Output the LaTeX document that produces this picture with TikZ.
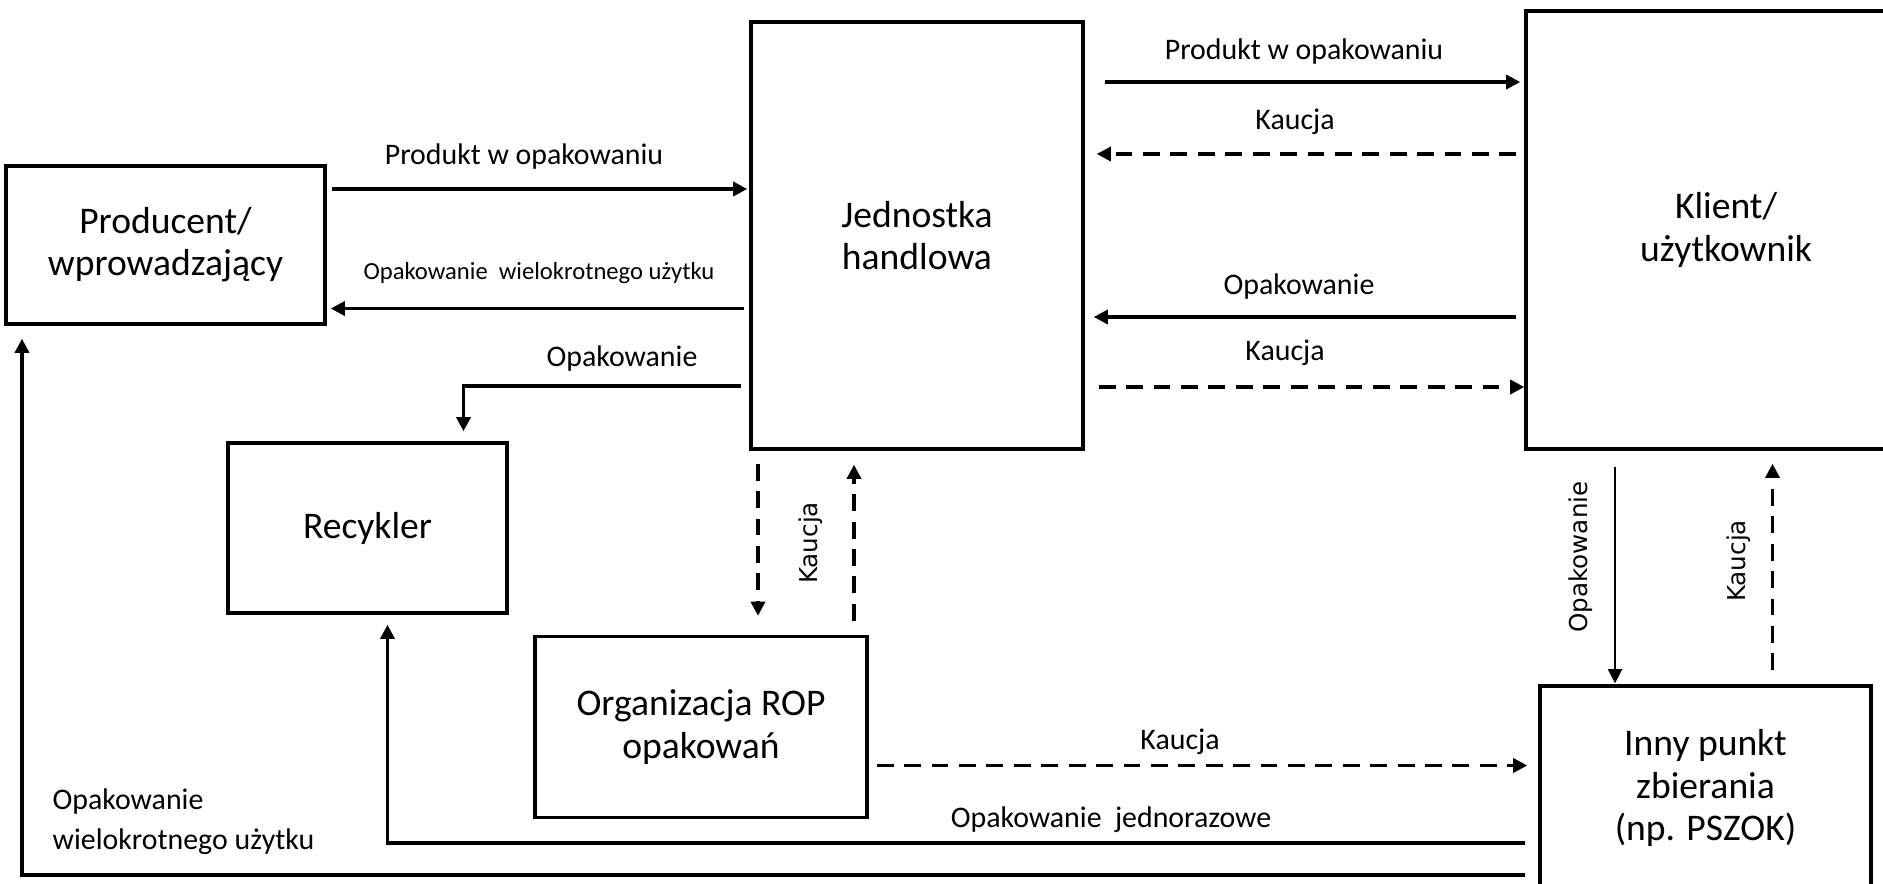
\documentclass[tikz,border=0pt]{standalone}
\usepackage{fontspec}
\setmainfont{Carlito}
\newfontfamily\rotfont{DejaVu Sans}
\usetikzlibrary{arrows.meta}

\tikzset{
    box/.style={draw, line width=1pt, align=center, inner sep=0pt, font=\fontsize{10.7}{12}\selectfont},
    flow/.style={line width=0.9pt, -{Triangle[length=4pt, width=4pt]}},
    dflow/.style={flow, dash pattern=on 4.8pt off 3pt},
    lab/.style={inner sep=0pt, font=\fontsize{8.5}{11.4}\selectfont},
    smalllab/.style={inner sep=0pt, font=\fontsize{7}{8}\selectfont},
    rotlab/.style={inner sep=0pt, rotate=90, font=\rotfont\fontsize{7}{8}\selectfont},
}

\begin{document}
\begin{tikzpicture}
    \useasboundingbox (0, 0) rectangle (18.83, -8.83);
    \clip (0, 0) rectangle (18.83, -8.83);

    \node[box, minimum width=3.19cm, minimum height=1.58cm] (prod) at (1.655, -2.45) {Producent/\\wprowadzający};
    \node[box, minimum width=3.32cm, minimum height=4.27cm] (jedn) at (9.17, -2.355) {Jednostka\\handlowa};
    \node[box, minimum width=4.00cm, minimum height=4.38cm] (klient) at (17.26, -2.30) {Klient/\\użytkownik};
    \node[box, minimum width=2.79cm, minimum height=1.70cm] (recykler) at (3.675, -5.28) {Recykler};
    \node[box, minimum width=3.32cm, minimum height=1.81cm] (rop) at (7.01, -7.27) {Organizacja ROP\\opakowań};
    \node[box, minimum width=3.31cm, minimum height=2.04cm] (inny) at (17.055, -7.88) {Inny punkt\\zbierania\\(np. PSZOK)};

    \draw[flow, shorten <=0.05cm, shorten >=0.02cm] ([yshift=0.56cm]prod.east) -- ([yshift=0.56cm]prod.east -| jedn.west);
    \draw[flow, shorten <=0.05cm, shorten >=0.04cm] ([yshift=-0.635cm]prod.east -| jedn.west) -- ([yshift=-0.635cm]prod.east);
    \draw[flow, shorten <=0.08cm, shorten >=0.10cm] ([yshift=-1.505cm]jedn.west) -| ([xshift=0.96cm]recykler.north);

    \draw[flow, shorten <=0.20cm, shorten >=0.04cm] ([yshift=1.535cm]jedn.east) -- ([yshift=1.535cm]jedn.east -| klient.west);
    \draw[dflow, shorten <=0.08cm, shorten >=0.12cm] ([yshift=0.815cm]jedn.east -| klient.west) -- ([yshift=0.815cm]jedn.east);
    \draw[flow, shorten <=0.08cm, shorten >=0.09cm] ([yshift=-0.815cm]jedn.east -| klient.west) -- ([yshift=-0.815cm]jedn.east);
    \draw[dflow, shorten <=0.14cm, shorten >=0cm] ([yshift=-1.515cm]jedn.east) -- ([yshift=-1.515cm]jedn.east -| klient.west);

    \draw[dflow, shorten <=0.13cm, shorten >=0.19cm] ([xshift=-1.59cm]jedn.south) -- ([xshift=-1.59cm]jedn.south |- rop.north);
    \draw[dflow, shorten <=0.14cm, shorten >=0.14cm] ([xshift=-0.63cm]jedn.south |- rop.north) -- ([xshift=-0.63cm]jedn.south);

    \draw[flow, line width=0.5pt, shorten <=0.16cm, shorten >=0.01cm] ([xshift=-1.11cm]klient.south) -- ([xshift=-1.11cm]klient.south |- inny.north);
    \draw[dflow, shorten <=0.14cm, shorten >=0.13cm] ([xshift=0.67cm]inny.north) -- ([xshift=0.67cm]inny.north |- klient.south);

    \draw[dflow, shorten <=0.08cm, shorten >=0.11cm] ([yshift=-0.385cm]rop.east) -- ([yshift=-0.385cm]rop.east -| inny.west);
    \draw[flow, shorten <=0.13cm, shorten >=0.10cm] ([yshift=-0.55cm]inny.west) -| ([xshift=0.20cm]recykler.south);
    \draw[flow, shorten <=0.13cm, shorten >=0.13cm] ([yshift=-0.87cm]inny.west) -| ([xshift=-1.435cm]prod.south);

    \node[lab] (l-prod) at (5.24, -1.57) {Produkt w opakowaniu};
    \node[smalllab] (l-wiel) at (5.39, -2.73) {Opakowanie\ \ wielokrotnego użytku};
    \node[lab] (l-rec) at (6.22, -3.59) {Opakowanie};
    \node[lab] (l-prod2) at (13.04, -0.52) {Produkt w opakowaniu};
    \node[lab] (l-k1) at (12.95, -1.22) {Kaucja};
    \node[lab] (l-op) at (12.99, -2.87) {Opakowanie};
    \node[lab] (l-k2) at (12.85, -3.53) {Kaucja};
    \node[rotlab] (l-k3) at (8.11, -5.43) {Kaucja};
    \node[rotlab] (l-op2) at (15.81, -5.57) {Opakowanie};
    \node[rotlab] (l-k4) at (17.39, -5.61) {Kaucja};
    \node[lab] (l-k5) at (11.80, -7.42) {Kaucja};
    \node[lab] (l-jedn) at (11.11, -8.20) {Opakowanie\ \ jednorazowe};
    \node[lab, anchor=west, align=left] (l-wiel2) at (0.52, -8.22) {Opakowanie\\wielokrotnego użytku};
\end{tikzpicture}
\end{document}
